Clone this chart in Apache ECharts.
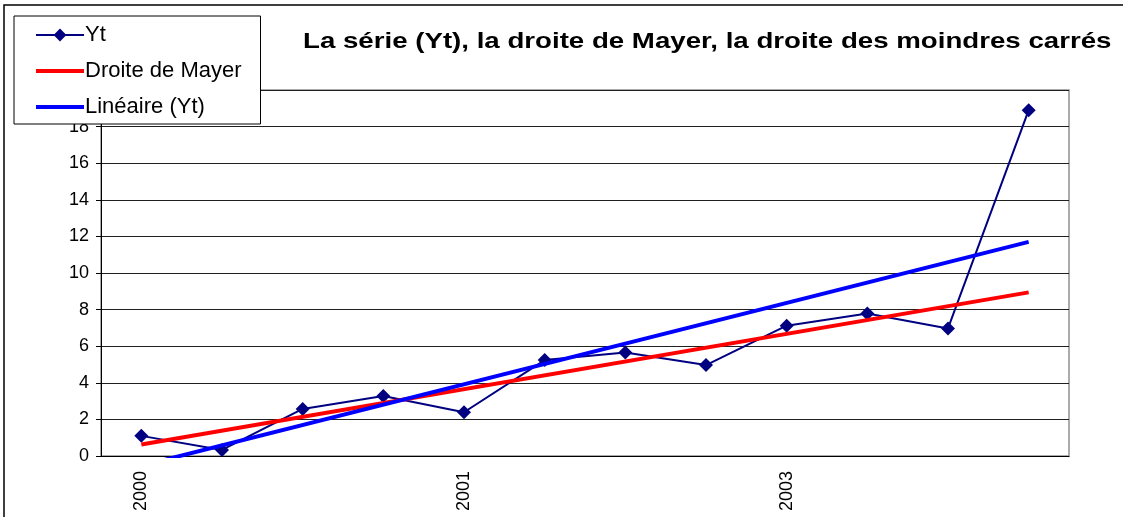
<!DOCTYPE html>
<html lang="fr">
<head>
  <meta http-equiv="Content-Type" content="text/html; charset=UTF-8">
  <title>ECharts</title>
  <script type="text/javascript" src="https://cdn.jsdelivr.net/npm/echarts@6/dist/echarts.min.js"></script>
  <style>
    html, body { margin: 0; padding: 0; background: #fff; }
  </style>
</head>

<body>
<div id="main" style="width: 1123px;height:517px;"></div>
<script type="text/javascript">
  // categories (only every 4th label is displayed)
  var categories = ['2000', '2000', '2000', '2000', '2001', '2001', '2002', '2002', '2003', '2003', '2003', '2004'];
  // la série Yt
  var yt = [1.1, 0.33, 2.57, 3.28, 2.39, 5.24, 5.66, 4.97, 7.12, 7.79, 6.97, 18.9];
  // droite de Mayer : extrémités
  var mayer = [0.63, null, null, null, null, null, null, null, null, null, null, 8.94];
  // tendance linéaire (moindres carrés) : extrémités lues
  var lineaire = [-0.53, null, null, null, null, null, null, null, null, null, null, 11.7];
  var yTicks = { min: 0, max: 20, interval: 2 };

  var myChart = echarts.init(document.getElementById('main'));
  var font = '"Liberation Sans", Arial, sans-serif';

  myChart.setOption({
    animation: false,
    backgroundColor: '#fff',
    textStyle: { fontFamily: font },
    graphic: [
      {
        type: 'rect',
        shape: { x: 4, y: 5, width: 1200, height: 700 },
        style: { fill: 'none', stroke: '#000', lineWidth: 1.5 },
        z: -1
      },
      {
        // titre (un peu étiré horizontalement, comme dans l'original)
        type: 'text',
        x: 303,
        y: 53,
        scaleX: 1.257,
        style: {
          text: 'La série (Yt), la droite de Mayer, la droite des moindres carrés',
          font: 'bold 22px ' + font,
          fill: '#000',
          textVerticalAlign: 'bottom'
        }
      }
    ],
    legend: {
      orient: 'vertical',
      left: 14,
      top: 16,
      padding: [8, 19, 6, 20],
      itemGap: 14,
      itemWidth: 48,
      itemHeight: 16,
      backgroundColor: '#fff',
      borderColor: '#000',
      borderWidth: 1,
      z: 10,
      textStyle: { fontFamily: font, fontSize: 22, color: '#000', padding: [0, 0, 0, -4] },
      data: [
        { name: 'Yt' },
        { name: 'Droite de Mayer', itemStyle: { opacity: 0 }, lineStyle: { width: 4 } },
        { name: 'Linéaire (Yt)', itemStyle: { opacity: 0 }, lineStyle: { width: 4 } }
      ]
    },
    grid: {
      left: 101,
      right: 54,
      top: 90,
      bottom: 61,
      show: true,
      borderColor: '#909090',
      borderWidth: 1.5
    },
    xAxis: {
      type: 'category',
      data: categories,
      boundaryGap: true,
      axisLine: { lineStyle: { color: '#000', width: 1 } },
      axisTick: { interval: 0, length: 5, lineStyle: { color: '#000' } },
      axisLabel: {
        interval: 3,
        rotate: 90,
        margin: 15,
        fontSize: 18,
        color: '#000',
        fontFamily: font
      },
      splitLine: { show: false }
    },
    yAxis: {
      type: 'value',
      min: yTicks.min,
      max: yTicks.max,
      interval: yTicks.interval,
      axisLine: { show: true, lineStyle: { color: '#000', width: 1 } },
      axisTick: { show: true, length: 5, lineStyle: { color: '#000' } },
      axisLabel: { fontSize: 18, color: '#000', margin: 12, fontFamily: font },
      splitLine: { show: true, lineStyle: { color: '#202020', width: 1 } }
    },
    series: [
      {
        name: 'Yt',
        type: 'line',
        data: yt,
        symbol: 'diamond',
        symbolSize: 14,
        z: 3,
        lineStyle: { color: '#000080', width: 2 },
        itemStyle: { color: '#000080' }
      },
      {
        name: 'Droite de Mayer',
        type: 'line',
        data: mayer,
        connectNulls: true,
        showSymbol: false,
        symbol: 'none',
        z: 4,
        lineStyle: { color: '#ff0000', width: 4 },
        itemStyle: { color: '#ff0000' }
      },
      {
        name: 'Linéaire (Yt)',
        type: 'line',
        data: lineaire,
        connectNulls: true,
        showSymbol: false,
        symbol: 'none',
        clip: true,
        z: 5,
        lineStyle: { color: '#0000ff', width: 4 },
        itemStyle: { color: '#0000ff' }
      }
    ]
  });
</script>
</body>
</html>
